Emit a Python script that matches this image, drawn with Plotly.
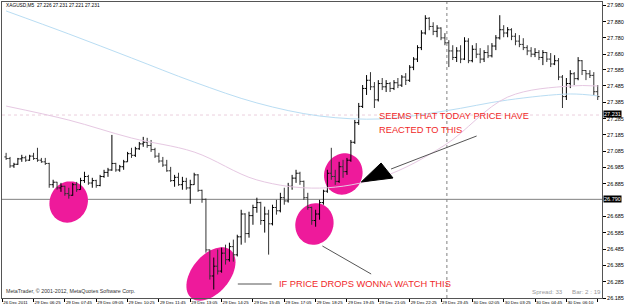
import numpy as np
import plotly.graph_objects as go

# ---------------- data (XAGUSD, M5 bars) ----------------
bar_open = [27.050, 27.040, 26.995, 27.005, 27.038, 27.045, 27.030, 27.055, 27.040, 27.030,
            27.020, 27.010, 26.880, 26.895, 26.860, 26.870, 26.825, 26.815, 26.880, 26.850,
            26.905, 26.930, 26.890, 26.905, 26.875, 26.930, 26.955, 26.970, 27.010, 26.970,
            26.990, 27.020, 27.070, 27.060, 27.100, 27.130, 27.140, 27.120, 27.095, 27.055,
            27.025, 27.000, 26.965, 26.905, 26.925, 26.880, 26.900, 26.860, 26.880, 26.940,
            26.845, 26.790, 26.480, 26.320, 26.380, 26.350, 26.460, 26.420, 26.500, 26.450,
            26.560, 26.700, 26.580, 26.690, 26.740, 26.770, 26.660, 26.700, 26.640, 26.740,
            26.720, 26.800, 26.780, 26.870, 26.920, 26.950, 26.900, 26.800, 26.740, 26.660,
            26.700, 26.770, 26.840, 26.950, 26.930, 26.900, 26.990, 26.960, 27.030, 27.140,
            27.260, 27.360, 27.470, 27.520, 27.480, 27.400, 27.500, 27.480, 27.500, 27.470,
            27.505, 27.490, 27.540, 27.520, 27.600, 27.650, 27.720, 27.810, 27.900, 27.850,
            27.820, 27.840, 27.780, 27.750, 27.700, 27.660, 27.700, 27.650, 27.760, 27.640,
            27.710, 27.680, 27.650, 27.690, 27.670, 27.730, 27.780, 27.830, 27.810, 27.830,
            27.790, 27.760, 27.740, 27.720, 27.700, 27.680, 27.690, 27.660, 27.690, 27.650,
            27.620, 27.640, 27.540, 27.420, 27.500, 27.560, 27.530, 27.640, 27.580, 27.560,
            27.550, 27.450]
bar_high = [27.075, 27.050, 27.014, 27.044, 27.063, 27.057, 27.063, 27.075, 27.106, 27.044,
            27.044, 27.014, 26.910, 26.897, 26.891, 26.873, 26.861, 26.891, 26.897, 26.922,
            26.959, 26.940, 26.922, 26.910, 26.940, 26.971, 26.983, 27.185, 27.014, 27.001,
            27.032, 27.081, 27.106, 27.112, 27.142, 27.173, 27.167, 27.154, 27.106, 27.075,
            27.050, 27.032, 26.989, 26.940, 26.953, 26.928, 26.922, 26.910, 26.953, 26.945,
            26.849, 26.795, 26.482, 26.433, 26.482, 26.494, 26.512, 26.524, 26.543, 26.573,
            26.726, 26.705, 26.714, 26.757, 26.800, 26.775, 26.745, 26.726, 26.757, 26.787,
            26.830, 26.861, 26.891, 26.940, 26.971, 26.959, 26.905, 26.830, 26.745, 26.726,
            26.787, 26.849, 26.971, 27.106, 26.971, 27.020, 27.032, 27.044, 27.154, 27.277,
            27.381, 27.491, 27.552, 27.570, 27.509, 27.521, 27.534, 27.521, 27.509, 27.521,
            27.534, 27.552, 27.564, 27.613, 27.662, 27.735, 27.827, 27.919, 27.907, 27.876,
            27.858, 27.845, 27.809, 27.766, 27.735, 27.723, 27.735, 27.784, 27.778, 27.735,
            27.748, 27.717, 27.705, 27.735, 27.748, 27.797, 27.919, 27.858, 27.846, 27.839,
            27.809, 27.797, 27.778, 27.735, 27.723, 27.717, 27.705, 27.705, 27.693, 27.687,
            27.674, 27.656, 27.552, 27.534, 27.582, 27.570, 27.662, 27.644, 27.582, 27.582,
            27.570, 27.491]
bar_low = [27.032, 26.983, 26.983, 27.001, 27.020, 27.020, 27.026, 27.032, 27.020, 27.014,
           27.001, 26.861, 26.861, 26.849, 26.836, 26.812, 26.794, 26.812, 26.836, 26.849,
           26.891, 26.879, 26.861, 26.861, 26.870, 26.922, 26.928, 26.965, 26.959, 26.959,
           26.971, 27.020, 27.044, 27.050, 27.093, 27.112, 27.106, 27.081, 27.044, 27.014,
           26.989, 26.959, 26.897, 26.867, 26.873, 26.849, 26.849, 26.763, 26.879, 26.836,
           26.769, 26.463, 26.298, 26.237, 26.329, 26.340, 26.390, 26.408, 26.408, 26.440,
           26.512, 26.524, 26.555, 26.634, 26.708, 26.634, 26.586, 26.451, 26.630, 26.696,
           26.710, 26.757, 26.770, 26.849, 26.891, 26.879, 26.787, 26.726, 26.634, 26.622,
           26.665, 26.757, 26.830, 26.910, 26.879, 26.891, 26.922, 26.940, 27.020, 27.130,
           27.246, 27.350, 27.430, 27.460, 27.350, 27.390, 27.460, 27.448, 27.448, 27.460,
           27.472, 27.479, 27.491, 27.510, 27.582, 27.632, 27.705, 27.800, 27.827, 27.797,
           27.784, 27.766, 27.735, 27.601, 27.644, 27.632, 27.625, 27.644, 27.625, 27.630,
           27.656, 27.625, 27.632, 27.656, 27.660, 27.705, 27.770, 27.784, 27.784, 27.766,
           27.735, 27.723, 27.705, 27.674, 27.662, 27.662, 27.644, 27.613, 27.632, 27.601,
           27.613, 27.521, 27.350, 27.399, 27.472, 27.491, 27.520, 27.552, 27.521, 27.534,
           27.430, 27.399]
bar_close = [27.040, 26.995, 27.005, 27.038, 27.045, 27.030, 27.055, 27.040, 27.030, 27.020,
             27.010, 26.880, 26.895, 26.860, 26.870, 26.825, 26.815, 26.880, 26.850, 26.905,
             26.930, 26.890, 26.905, 26.875, 26.930, 26.955, 26.970, 27.010, 26.970, 26.990,
             27.020, 27.070, 27.060, 27.100, 27.130, 27.140, 27.120, 27.095, 27.055, 27.025,
             27.000, 26.965, 26.905, 26.925, 26.880, 26.900, 26.860, 26.880, 26.940, 26.845,
             26.790, 26.480, 26.320, 26.380, 26.350, 26.460, 26.420, 26.500, 26.450, 26.560,
             26.700, 26.580, 26.690, 26.740, 26.770, 26.660, 26.700, 26.640, 26.740, 26.720,
             26.800, 26.780, 26.870, 26.920, 26.950, 26.900, 26.800, 26.740, 26.660, 26.700,
             26.770, 26.840, 26.950, 26.930, 26.900, 26.990, 26.960, 27.030, 27.140, 27.260,
             27.360, 27.470, 27.520, 27.480, 27.400, 27.500, 27.480, 27.500, 27.470, 27.505,
             27.490, 27.540, 27.520, 27.600, 27.650, 27.720, 27.810, 27.900, 27.850, 27.820,
             27.840, 27.780, 27.750, 27.700, 27.660, 27.700, 27.650, 27.760, 27.640, 27.710,
             27.680, 27.650, 27.690, 27.670, 27.730, 27.780, 27.830, 27.810, 27.830, 27.790,
             27.760, 27.740, 27.720, 27.700, 27.680, 27.690, 27.660, 27.690, 27.650, 27.620,
             27.640, 27.540, 27.420, 27.500, 27.560, 27.530, 27.640, 27.580, 27.560, 27.550,
             27.450, 27.420]
bar_index = list(range(len(bar_close)))

# moving averages (sampled along the chart)
ma_bars = [0, 16, 32, 48, 64, 80, 96, 112, 128, 144, 151]
ma_blue = [27.945, 27.804, 27.657, 27.509, 27.381, 27.301, 27.283, 27.332, 27.399, 27.436, 27.424]
ma_pink = [27.362, 27.276, 27.166, 27.080, 26.909, 26.859, 26.927, 27.123, 27.417, 27.485, 27.485]

# levels
bid_level = 27.307
bid_label = "27.231"
hline_level = 26.790
hline_label = "26.790"
day_separator_bar = 112.5

# axis labels
x_tick_labels = ["26 Dec 2011", "29 Dec 06:25", "29 Dec 07:45", "29 Dec 09:05", "29 Dec 10:25",
                 "29 Dec 11:45", "29 Dec 13:05", "29 Dec 14:25", "29 Dec 15:45", "29 Dec 17:05",
                 "29 Dec 18:25", "29 Dec 19:45", "29 Dec 21:05", "29 Dec 22:25", "29 Dec 23:45",
                 "30 Dec 02:05", "30 Dec 03:25", "30 Dec 04:45", "30 Dec 06:10", "30 Dec 07:30"]
x_tick_bars = [-1 + 8 * i for i in range(len(x_tick_labels))]
y_tick_labels = ["27.980", "27.880", "27.780", "27.680", "27.585", "27.485", "27.385", "27.285",
                 "27.185", "27.085", "26.985", "26.885", "26.685", "26.585", "26.485",
                 "26.385", "26.285", "26.185"]
y_tick_vals = [float(t) for t in y_tick_labels]

title_text = "XAGUSD,M5  27.226 27.231 27.221 27.231"

# ---------------- layout geometry ----------------
W, H = 625, 306
ML, MR, MT, MB = 1, 21, 2, 8
PW, PH = W - ML - MR, H - MT - MB
BAR_PX = 3.9375
X0 = -1.05
X1 = X0 + PW / BAR_PX
Y0, Y1 = 26.185, 28.0


def P(px, py):
    """pixel -> paper coords of plot area"""
    return (px - ML) / PW, 1 - (py - MT) / PH


def ellipse_path(cx, cy, rx, ry, ang):
    t = np.linspace(0, 2 * np.pi, 60)
    a = np.deg2rad(ang)
    xs = cx + rx * np.cos(t) * np.cos(a) - ry * np.sin(t) * np.sin(a)
    ys = cy + rx * np.cos(t) * np.sin(a) + ry * np.sin(t) * np.cos(a)
    pts = [P(x, y) for x, y in zip(xs, ys)]
    return "M " + " L ".join(f"{x:.4f},{y:.4f}" for x, y in pts) + " Z"


fig = go.Figure()

fig.add_trace(go.Scatter(x=ma_bars, y=ma_blue, mode="lines", line=dict(color="#B9DDF3", width=1, shape="spline"),
                         hoverinfo="skip", showlegend=False))
fig.add_trace(go.Scatter(x=ma_bars, y=ma_pink, mode="lines", line=dict(color="#E6C8E2", width=1, shape="spline"),
                         hoverinfo="skip", showlegend=False))

fig.add_trace(go.Ohlc(x=bar_index, open=bar_open, high=bar_high, low=bar_low, close=bar_close,
                      increasing=dict(line=dict(color="#000000", width=1)),
                      decreasing=dict(line=dict(color="#333333", width=1)),
                      tickwidth=0.45, showlegend=False))

pink = "#EE1A9B"
shapes = [
    # horizontal levels
    dict(type="line", xref="paper", yref="y", x0=0, x1=1, y0=bid_level, y1=bid_level,
         line=dict(color="#EBCFDD", width=1, dash="dot"), layer="below"),
    dict(type="line", xref="paper", yref="y", x0=0, x1=1, y0=hline_level, y1=hline_level,
         line=dict(color="#808080", width=1), layer="below"),
    dict(type="line", xref="x", yref="paper", x0=day_separator_bar, x1=day_separator_bar, y0=0, y1=1,
         line=dict(color="#808080", width=1, dash="dot"), layer="below"),
    # ellipses
    dict(type="path", xref="paper", yref="paper", path=ellipse_path(68, 202, 19, 21, 25),
         fillcolor=pink, line=dict(width=0), layer="below"),
    dict(type="path", xref="paper", yref="paper", path=ellipse_path(211, 274, 31, 19, -50),
         fillcolor=pink, line=dict(width=0), layer="below"),
    dict(type="path", xref="paper", yref="paper", path=ellipse_path(315, 224, 19, 21, 20),
         fillcolor=pink, line=dict(width=0), layer="below"),
    dict(type="path", xref="paper", yref="paper", path=ellipse_path(344, 174, 19, 21, 25),
         fillcolor=pink, line=dict(width=0), layer="below"),
]
# lines & arrow
for (ax, ay, bx, by) in [(238, 284, 272, 284), (323, 246, 372, 274), (392, 169, 478, 136)]:
    (x0, y0), (x1, y1) = P(ax, ay), P(bx, by)
    shapes.append(dict(type="line", xref="paper", yref="paper", x0=x0, y0=y0, x1=x1, y1=y1,
                       line=dict(color="#555555", width=1)))
tri = [P(362, 182), P(382, 163), P(394, 178)]
shapes.append(dict(type="path", xref="paper", yref="paper",
                   path="M " + " L ".join(f"{x:.4f},{y:.4f}" for x, y in tri) + " Z",
                   fillcolor="#000000", line=dict(color="#000000", width=1)))

FONT = "Liberation Sans, Arial, sans-serif"
ann = []


def txt(px, py, s, size, color, anchor="left", **kw):
    x, y = P(px, py)
    d = dict(xref="paper", yref="paper", x=x, y=y, text=s, showarrow=False, xanchor=anchor,
             yanchor="middle", font=dict(family=FONT, size=size, color=color))
    d.update(kw)
    ann.append(d)


txt(3, 6, title_text, 4.8, "#000000")
txt(3, 291, "MetaTrader, © 2001-2012, MetaQuotes Software Corp.", 5.3, "#333333")
txt(532, 291, "Spread: 33", 6.2, "#999999")
txt(572, 291, "Bar: 2 : 19", 6.2, "#999999")
txt(378, 116, "SEEMS THAT TODAY PRICE HAVE", 9.3, "#F02828")
txt(378, 130, "REACTED TO THIS", 9.3, "#F02828")
txt(277, 284, "IF PRICE DROPS WONNA WATCH THIS", 9.3, "#F02828")

for lvl, lab, dy in [(bid_level, bid_label, -1), (hline_level, hline_label, 0)]:
    ann.append(dict(xref="paper", yref="y", x=1.0, y=lvl, text=lab, showarrow=False, xanchor="left",
                    yanchor="middle", xshift=1, yshift=-dy, bgcolor="#000000", borderpad=0,
                    font=dict(family=FONT, size=5.5, color="#FFFFFF")))

fig.update_layout(
    width=W, height=H, margin=dict(l=ML, r=MR, t=MT, b=MB, pad=0),
    paper_bgcolor="#FFFFFF", plot_bgcolor="#FFFFFF",
    shapes=shapes, annotations=ann, showlegend=False,
    xaxis=dict(range=[X0, X1], tickvals=x_tick_bars, ticktext=x_tick_labels, tickangle=0,
               ticklabelposition="outside right", ticks="outside", ticklen=3, tickcolor="#000000",
               showgrid=False, zeroline=False, showline=True, linecolor="#555555", mirror=True,
               tickfont=dict(family=FONT, size=4.4, color="#000000"),
               rangeslider=dict(visible=False), fixedrange=True),
    yaxis=dict(range=[Y0, Y1], side="right", tickvals=y_tick_vals, ticktext=y_tick_labels,
               ticks="outside", ticklen=3, tickcolor="#000000", showgrid=False, zeroline=False,
               showline=True, linecolor="#555555", mirror=True,
               tickfont=dict(family=FONT, size=5.5, color="#000000"), fixedrange=True),
)

fig.write_html("out.html")
